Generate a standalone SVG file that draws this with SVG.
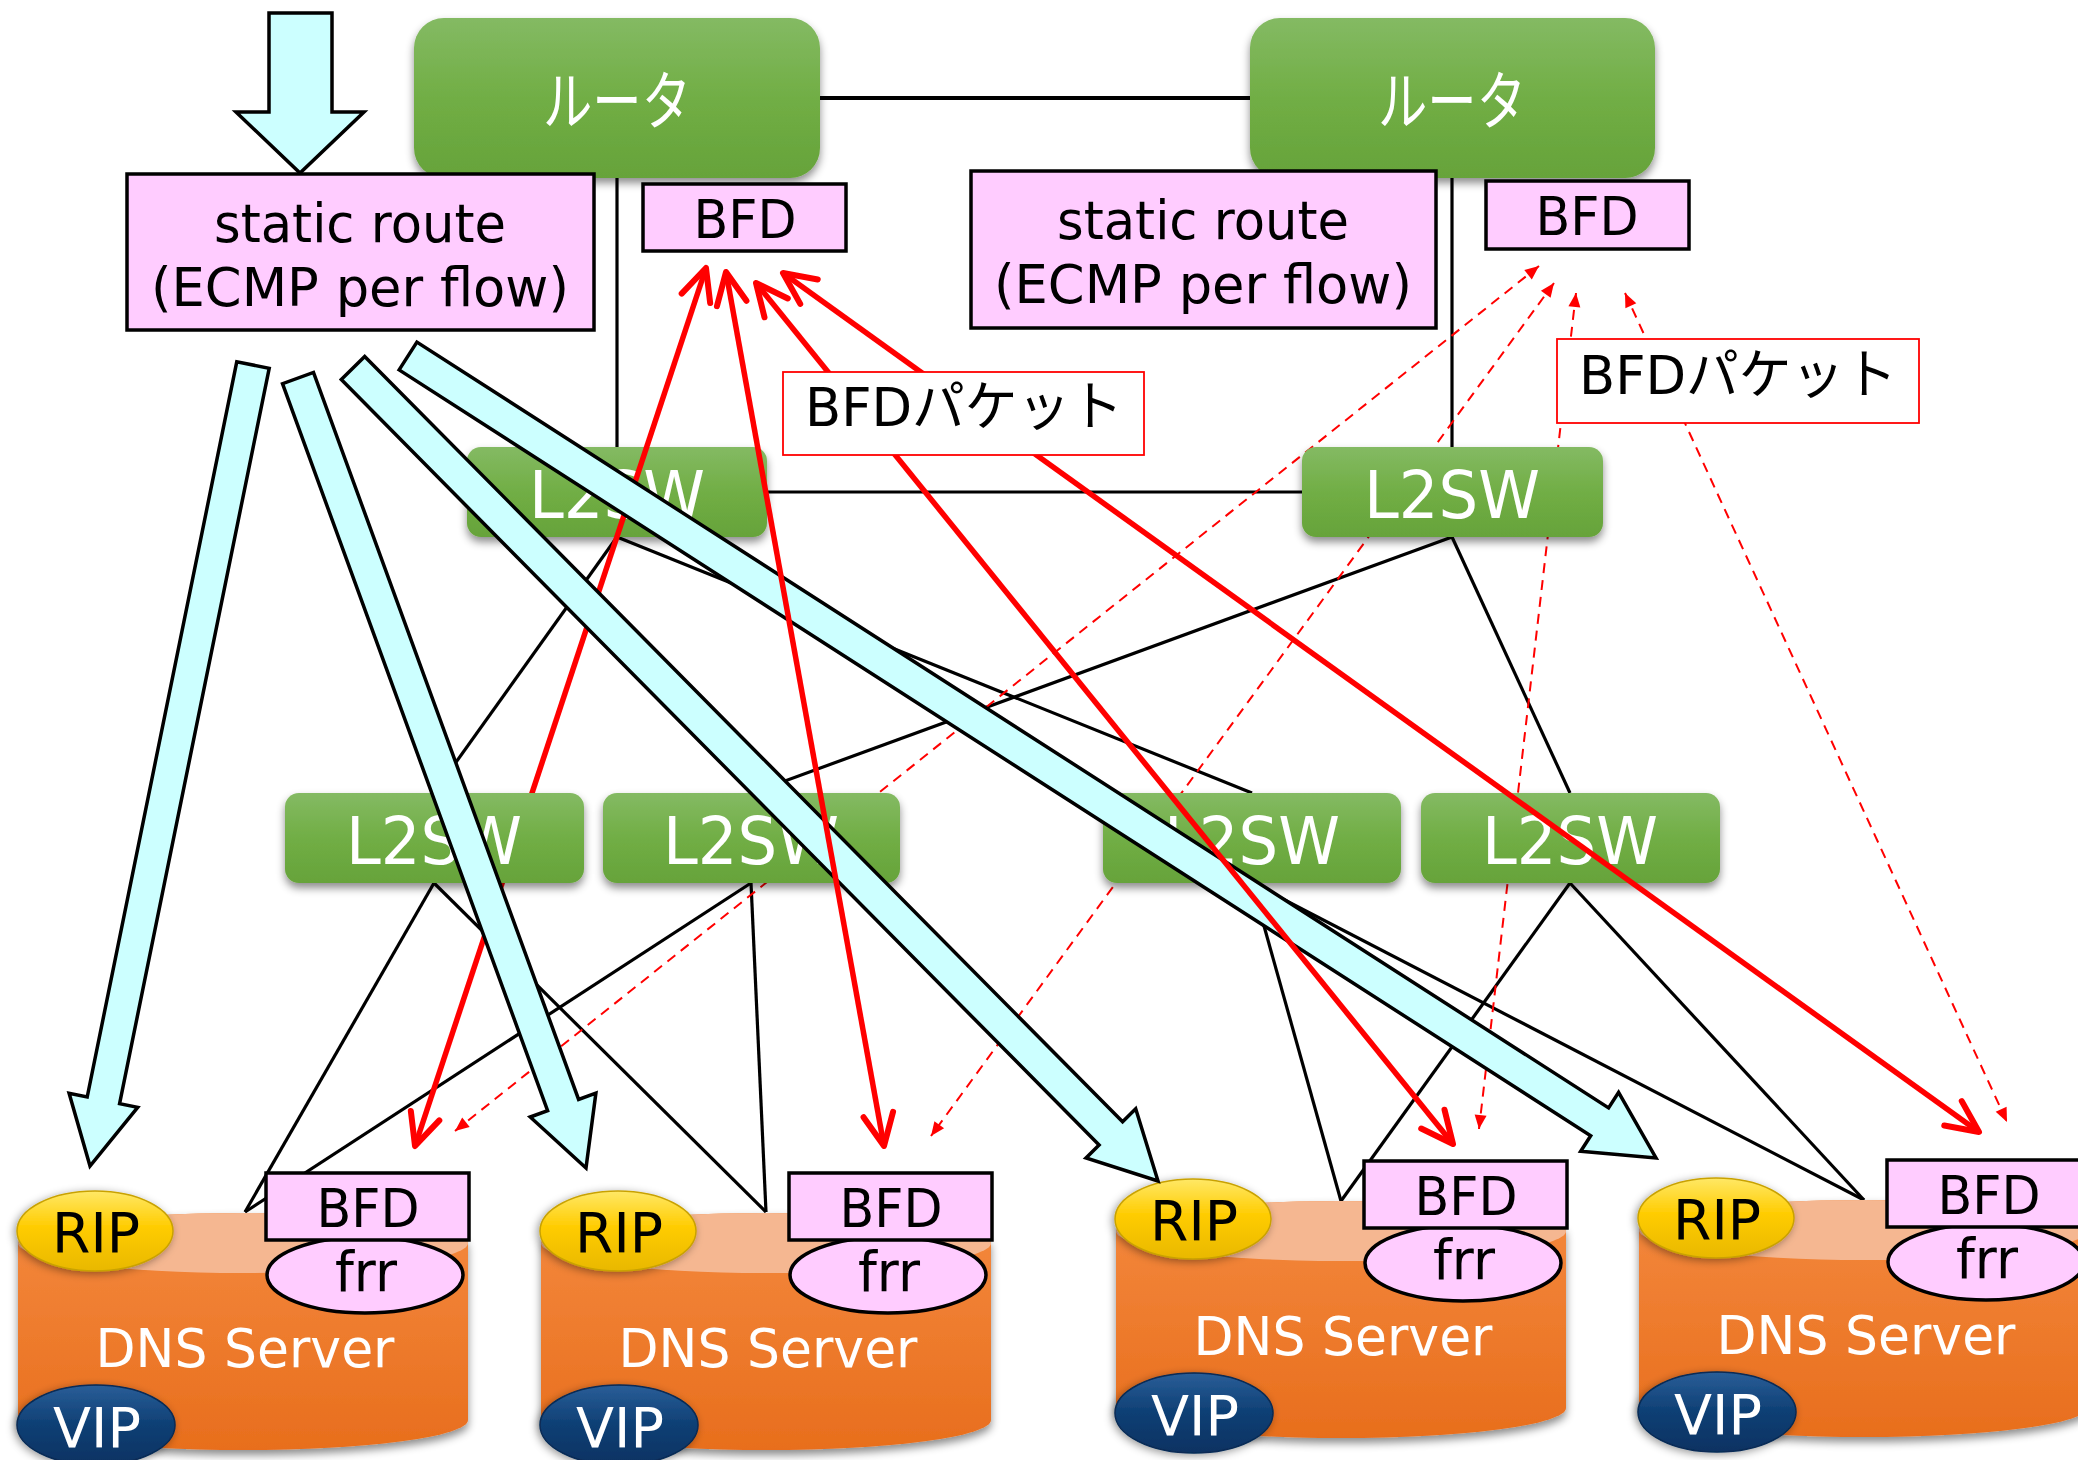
<svg xmlns="http://www.w3.org/2000/svg" width="2078" height="1460" viewBox="0 0 2078 1460">
  <defs>
    <style>
      .lat { font-family: "DejaVu Sans", "Noto Sans CJK JP", sans-serif; }
      .jp { font-family: "Noto Sans CJK JP", "DejaVu Sans", sans-serif; }
      .wtxt { fill: #FFFFFF; text-anchor: middle; }
      .btxt { fill: #000000; text-anchor: middle; }
      .green { fill: url(#gGreen); filter: url(#shadow); }
      .pink { fill: #FFCCFF; stroke: #000; stroke-width: 3.5; }
      .cyan { fill: #CCFFFF; stroke: #000; stroke-width: 3.5; stroke-linejoin: miter; }
      .wire { stroke: #000; stroke-width: 3.2; fill: none; }
      .red { stroke: #FF0000; stroke-width: 5.5; fill: none; marker-start: url(#vHead); marker-end: url(#vHead); }
      .dash { stroke: #FF0000; stroke-width: 2; fill: none; stroke-dasharray: 10 7; marker-start: url(#tHead); marker-end: url(#tHead); }
      .label { fill: #FFFFFF; stroke: #FF0000; stroke-width: 1.8; }
    </style>
    <linearGradient id="gGreen" x1="0" y1="0" x2="0" y2="1">
      <stop offset="0" stop-color="#84BA63"/>
      <stop offset="0.5" stop-color="#71AE45"/>
      <stop offset="1" stop-color="#66A33A"/>
    </linearGradient>
    <linearGradient id="gBody" x1="0" y1="0" x2="0" y2="1">
      <stop offset="0" stop-color="#F4893E"/>
      <stop offset="1" stop-color="#E86E1D"/>
    </linearGradient>
    <linearGradient id="gGold" x1="0" y1="0" x2="0" y2="1">
      <stop offset="0" stop-color="#FFE866"/>
      <stop offset="0.45" stop-color="#FFCC00"/>
      <stop offset="1" stop-color="#E9B800"/>
    </linearGradient>
    <linearGradient id="gNavy" x1="0" y1="0" x2="0" y2="1">
      <stop offset="0" stop-color="#2A5E98"/>
      <stop offset="0.5" stop-color="#0E3F74"/>
      <stop offset="1" stop-color="#093262"/>
    </linearGradient>
    <filter id="shadow" x="-10%" y="-15%" width="120%" height="140%">
      <feDropShadow dx="0" dy="5" stdDeviation="4" flood-color="#000" flood-opacity="0.45"/>
    </filter>
    <filter id="glow" x="-20%" y="-25%" width="140%" height="150%">
      <feDropShadow dx="-2" dy="2" stdDeviation="4" flood-color="#000" flood-opacity="0.4"/>
    </filter>
    <marker id="vHead" markerUnits="userSpaceOnUse" viewBox="-40 -20 46 40" refX="0" refY="0" markerWidth="46" markerHeight="40" orient="auto-start-reverse">
      <path d="M-32,-15 L0,0 L-32,15" fill="none" stroke="#FF0000" stroke-width="6" stroke-linecap="round" stroke-linejoin="round"/>
    </marker>
    <marker id="tHead" markerUnits="userSpaceOnUse" viewBox="-16 -8 18 16" refX="0" refY="0" markerWidth="18" markerHeight="16" orient="auto-start-reverse">
      <path d="M-14,-6 L0,0 L-14,6 Z" fill="#FF0000"/>
    </marker>
  </defs>

  <rect x="0" y="0" width="2078" height="1460" fill="#FFFFFF"/>

  <!-- cabling between routers, switches and servers -->
  <g id="connectors">
    <line class="wire" x1="820" y1="98" x2="1250" y2="98" style="stroke-width:3.8"/>
    <line class="wire" x1="617" y1="178" x2="617" y2="447"/>
    <line class="wire" x1="1452" y1="178" x2="1452" y2="447"/>
    <line class="wire" x1="767" y1="492" x2="1302" y2="492"/>
    <line class="wire" x1="617" y1="537" x2="434" y2="793"/>
    <line class="wire" x1="617" y1="537" x2="1252" y2="793"/>
    <line class="wire" x1="1452" y1="537" x2="752" y2="793"/>
    <line class="wire" x1="1452" y1="537" x2="1570" y2="793"/>
    <line class="wire" x1="434" y1="883" x2="245" y2="1212"/>
    <line class="wire" x1="434" y1="883" x2="766" y2="1212"/>
    <line class="wire" x1="751" y1="883" x2="245" y2="1212"/>
    <line class="wire" x1="751" y1="883" x2="766" y2="1212"/>
    <line class="wire" x1="1252" y1="883" x2="1341" y2="1201"/>
    <line class="wire" x1="1252" y1="883" x2="1864" y2="1200"/>
    <line class="wire" x1="1570" y1="883" x2="1341" y2="1201"/>
    <line class="wire" x1="1570" y1="883" x2="1864" y2="1200"/>
  </g>

  <!-- BFD packets from the second router (dashed) -->
  <g id="bfd-dashed">
    <line class="dash" x1="1539" y1="266" x2="455" y2="1131"/>
    <line class="dash" x1="1554" y1="283" x2="931" y2="1136"/>
    <line class="dash" x1="1576" y1="293" x2="1479" y2="1129"/>
    <line class="dash" x1="1625" y1="293" x2="2007" y2="1122"/>
  </g>

  <!-- routers -->
  <g id="router1">
    <rect class="green" x="414" y="18" width="406" height="160" rx="30"/>
    <text class="jp wtxt" x="617" y="124" font-size="64" textLength="148" lengthAdjust="spacingAndGlyphs">ルータ</text>
  </g>
  <g id="router2">
    <rect class="green" x="1250" y="18" width="405" height="160" rx="30"/>
    <text class="jp wtxt" x="1452" y="124" font-size="64" textLength="148" lengthAdjust="spacingAndGlyphs">ルータ</text>
  </g>

  <!-- upper switches -->
  <g id="l2sw-top-left">
    <rect class="green" x="467" y="447" width="300" height="90" rx="14"/>
    <text class="lat wtxt" x="617" y="518" font-size="66" textLength="176" lengthAdjust="spacingAndGlyphs">L2SW</text>
  </g>
  <g id="l2sw-top-right">
    <rect class="green" x="1302" y="447" width="301" height="90" rx="14"/>
    <text class="lat wtxt" x="1452" y="518" font-size="66" textLength="176" lengthAdjust="spacingAndGlyphs">L2SW</text>
  </g>

  <!-- BFD session router1 - server1 -->
  <g id="bfd-r1">
    <line class="red" x1="706" y1="268" x2="415" y2="1146"/>
  </g>

  <!-- lower switches -->
  <g id="l2sw-1">
    <rect class="green" x="285" y="793" width="299" height="90" rx="14"/>
    <text class="lat wtxt" x="434" y="864" font-size="66" textLength="176" lengthAdjust="spacingAndGlyphs">L2SW</text>
  </g>
  <g id="l2sw-2">
    <rect class="green" x="603" y="793" width="297" height="90" rx="14"/>
    <text class="lat wtxt" x="751" y="864" font-size="66" textLength="176" lengthAdjust="spacingAndGlyphs">L2SW</text>
  </g>
  <g id="l2sw-3">
    <rect class="green" x="1103" y="793" width="298" height="90" rx="14"/>
    <text class="lat wtxt" x="1252" y="864" font-size="66" textLength="176" lengthAdjust="spacingAndGlyphs">L2SW</text>
  </g>
  <g id="l2sw-4">
    <rect class="green" x="1421" y="793" width="299" height="90" rx="14"/>
    <text class="lat wtxt" x="1570" y="864" font-size="66" textLength="176" lengthAdjust="spacingAndGlyphs">L2SW</text>
  </g>

  <!-- DNS servers -->
  <g id="server1">
    <path d="M18,1243 L18,1420 A225,30 0 0 0 468,1420 L468,1243 A225,30 0 0 0 18,1243 Z" fill="url(#gBody)" filter="url(#shadow)"/>
    <ellipse cx="243" cy="1243" rx="225" ry="30" fill="#F5B791"/>
    <text class="lat wtxt" x="245" y="1367" font-size="54" textLength="299" lengthAdjust="spacingAndGlyphs">DNS Server</text>
    <ellipse cx="95" cy="1231" rx="78" ry="40" fill="url(#gGold)" stroke="#C9A205" stroke-width="1.5" filter="url(#glow)"/>
    <text class="lat btxt" x="96" y="1252" font-size="56" textLength="88" lengthAdjust="spacingAndGlyphs">RIP</text>
    <ellipse cx="96" cy="1425" rx="79" ry="40" fill="url(#gNavy)" stroke="#072A55" stroke-width="1.5" filter="url(#glow)"/>
    <text class="lat wtxt" x="97" y="1447" font-size="56" textLength="88" lengthAdjust="spacingAndGlyphs">VIP</text>
    <ellipse class="pink" cx="365" cy="1275" rx="98" ry="38"/>
    <text class="lat btxt" x="366" y="1291" font-size="56" textLength="62" lengthAdjust="spacingAndGlyphs">frr</text>
    <rect class="pink" x="266" y="1173" width="203" height="67"/>
    <text class="lat btxt" x="368" y="1227" font-size="53" textLength="103" lengthAdjust="spacingAndGlyphs">BFD</text>
  </g>
  <g id="server2" transform="translate(523,0)">
    <path d="M18,1243 L18,1420 A225,30 0 0 0 468,1420 L468,1243 A225,30 0 0 0 18,1243 Z" fill="url(#gBody)" filter="url(#shadow)"/>
    <ellipse cx="243" cy="1243" rx="225" ry="30" fill="#F5B791"/>
    <text class="lat wtxt" x="245" y="1367" font-size="54" textLength="299" lengthAdjust="spacingAndGlyphs">DNS Server</text>
    <ellipse cx="95" cy="1231" rx="78" ry="40" fill="url(#gGold)" stroke="#C9A205" stroke-width="1.5" filter="url(#glow)"/>
    <text class="lat btxt" x="96" y="1252" font-size="56" textLength="88" lengthAdjust="spacingAndGlyphs">RIP</text>
    <ellipse cx="96" cy="1425" rx="79" ry="40" fill="url(#gNavy)" stroke="#072A55" stroke-width="1.5" filter="url(#glow)"/>
    <text class="lat wtxt" x="97" y="1447" font-size="56" textLength="88" lengthAdjust="spacingAndGlyphs">VIP</text>
    <ellipse class="pink" cx="365" cy="1275" rx="98" ry="38"/>
    <text class="lat btxt" x="366" y="1291" font-size="56" textLength="62" lengthAdjust="spacingAndGlyphs">frr</text>
    <rect class="pink" x="266" y="1173" width="203" height="67"/>
    <text class="lat btxt" x="368" y="1227" font-size="53" textLength="103" lengthAdjust="spacingAndGlyphs">BFD</text>
  </g>
  <g id="server3" transform="translate(1098,-12)">
    <path d="M18,1243 L18,1420 A225,30 0 0 0 468,1420 L468,1243 A225,30 0 0 0 18,1243 Z" fill="url(#gBody)" filter="url(#shadow)"/>
    <ellipse cx="243" cy="1243" rx="225" ry="30" fill="#F5B791"/>
    <text class="lat wtxt" x="245" y="1367" font-size="54" textLength="299" lengthAdjust="spacingAndGlyphs">DNS Server</text>
    <ellipse cx="95" cy="1231" rx="78" ry="40" fill="url(#gGold)" stroke="#C9A205" stroke-width="1.5" filter="url(#glow)"/>
    <text class="lat btxt" x="96" y="1252" font-size="56" textLength="88" lengthAdjust="spacingAndGlyphs">RIP</text>
    <ellipse cx="96" cy="1425" rx="79" ry="40" fill="url(#gNavy)" stroke="#072A55" stroke-width="1.5" filter="url(#glow)"/>
    <text class="lat wtxt" x="97" y="1447" font-size="56" textLength="88" lengthAdjust="spacingAndGlyphs">VIP</text>
    <ellipse class="pink" cx="365" cy="1275" rx="98" ry="38"/>
    <text class="lat btxt" x="366" y="1291" font-size="56" textLength="62" lengthAdjust="spacingAndGlyphs">frr</text>
    <rect class="pink" x="266" y="1173" width="203" height="67"/>
    <text class="lat btxt" x="368" y="1227" font-size="53" textLength="103" lengthAdjust="spacingAndGlyphs">BFD</text>
  </g>
  <g id="server4" transform="translate(1621,-13)">
    <path d="M18,1243 L18,1420 A225,30 0 0 0 468,1420 L468,1243 A225,30 0 0 0 18,1243 Z" fill="url(#gBody)" filter="url(#shadow)"/>
    <ellipse cx="243" cy="1243" rx="225" ry="30" fill="#F5B791"/>
    <text class="lat wtxt" x="245" y="1367" font-size="54" textLength="299" lengthAdjust="spacingAndGlyphs">DNS Server</text>
    <ellipse cx="95" cy="1231" rx="78" ry="40" fill="url(#gGold)" stroke="#C9A205" stroke-width="1.5" filter="url(#glow)"/>
    <text class="lat btxt" x="96" y="1252" font-size="56" textLength="88" lengthAdjust="spacingAndGlyphs">RIP</text>
    <ellipse cx="96" cy="1425" rx="79" ry="40" fill="url(#gNavy)" stroke="#072A55" stroke-width="1.5" filter="url(#glow)"/>
    <text class="lat wtxt" x="97" y="1447" font-size="56" textLength="88" lengthAdjust="spacingAndGlyphs">VIP</text>
    <ellipse class="pink" cx="365" cy="1275" rx="98" ry="38"/>
    <text class="lat btxt" x="366" y="1291" font-size="56" textLength="62" lengthAdjust="spacingAndGlyphs">frr</text>
    <rect class="pink" x="266" y="1173" width="203" height="67"/>
    <text class="lat btxt" x="368" y="1227" font-size="53" textLength="103" lengthAdjust="spacingAndGlyphs">BFD</text>
  </g>

  <!-- traffic flow: incoming and ECMP fan-out to each RIP -->
  <g id="flow-arrows">
    <polygon class="cyan" points="269,13 332,13 332,112 364,112 300,173 236,112 269,112"/>
    <polygon class="cyan" points="236.8,361.7 87.2,1097.0 69.1,1093.3 90,1166 137.7,1107.3 119.6,1103.6 269.2,368.3"/>
    <polygon class="cyan" points="282.5,383.7 547.6,1110.7 530.2,1117.0 586,1168 595.9,1093.1 578.6,1099.4 313.5,372.4"/>
    <polygon class="cyan" points="341.3,379.6 1099.1,1145.0 1086.0,1158.0 1158,1181 1135.7,1108.8 1122.6,1121.8 364.7,356.4"/>
    <polygon class="cyan" points="399.1,369.9 1590.7,1135.7 1580.7,1151.2 1656,1158 1618.6,1092.3 1608.6,1107.9 416.9,342.1"/>
  </g>

  <!-- BFD sessions router1 - servers 2..4 -->
  <g id="bfd-solid">
    <line class="red" x1="726" y1="272" x2="884" y2="1146"/>
    <line class="red" x1="756" y1="283" x2="1453" y2="1144"/>
    <line class="red" x1="783" y1="273" x2="1979" y2="1132"/>
  </g>

  <!-- routing and BFD on the routers -->
  <g id="static-route1">
    <rect class="pink" x="127" y="174" width="467" height="156"/>
    <text class="lat btxt" x="360" y="242" font-size="54" textLength="292" lengthAdjust="spacingAndGlyphs">static route</text>
    <text class="lat btxt" x="360" y="306" font-size="54" textLength="418" lengthAdjust="spacingAndGlyphs">(ECMP per flow)</text>
  </g>
  <g id="bfd-router1">
    <rect class="pink" x="643" y="184" width="203" height="67"/>
    <text class="lat btxt" x="745" y="238" font-size="53" textLength="103" lengthAdjust="spacingAndGlyphs">BFD</text>
  </g>
  <g id="static-route2">
    <rect class="pink" x="971" y="171" width="465" height="157"/>
    <text class="lat btxt" x="1203" y="239" font-size="54" textLength="292" lengthAdjust="spacingAndGlyphs">static route</text>
    <text class="lat btxt" x="1203" y="303" font-size="54" textLength="418" lengthAdjust="spacingAndGlyphs">(ECMP per flow)</text>
  </g>
  <g id="bfd-router2">
    <rect class="pink" x="1486" y="181" width="203" height="68"/>
    <text class="lat btxt" x="1587" y="235" font-size="53" textLength="103" lengthAdjust="spacingAndGlyphs">BFD</text>
  </g>

  <!-- packet labels -->
  <g id="label-bfd-packet1">
    <rect class="label" x="783" y="372" width="361" height="83"/>
    <text class="lat btxt" x="964" y="426" font-size="54" textLength="318" lengthAdjust="spacingAndGlyphs">BFDパケット</text>
  </g>
  <g id="label-bfd-packet2">
    <rect class="label" x="1557" y="339" width="362" height="84"/>
    <text class="lat btxt" x="1738" y="394" font-size="54" textLength="318" lengthAdjust="spacingAndGlyphs">BFDパケット</text>
  </g>
</svg>
